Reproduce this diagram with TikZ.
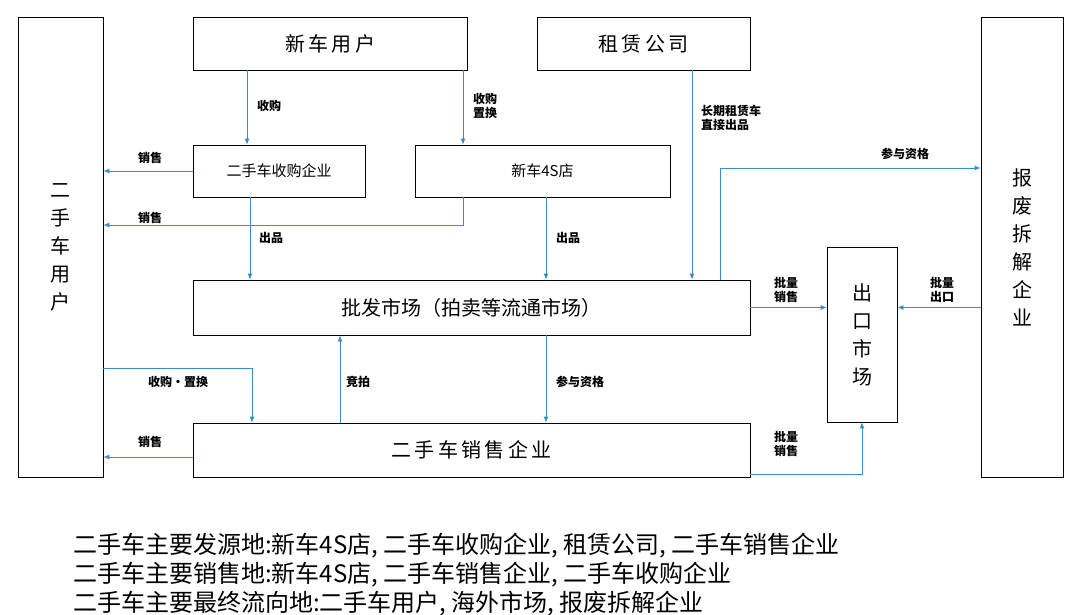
\documentclass[tikz,border=0pt]{standalone}
\usepackage{fontspec}
\setmainfont{Noto Sans CJK SC}
\usetikzlibrary{arrows.meta}
\definecolor{flow}{HTML}{3A8FC0}
\begin{document}
\begin{tikzpicture}[x=1pt,y=-1pt,
    unit/.style ={draw, thick, inner sep=0pt},
    flowline/.style ={draw=flow, thick, -{Latex[length=6pt,width=5pt]}},
    tag/.style ={font=\bfseries\fontsize{12}{14}\selectfont, align=left, inner sep=1pt}]
   \useasboundingbox (0,0) rectangle (1080,615);
   \node[unit, minimum width=85, minimum height=460, align=center, font=\fontsize{20}{28}\selectfont] (used) at (60.5,247) {二\\手\\车\\用\\户};
   \node[unit, minimum width=274, minimum height=53, font=\fontsize{20}{24}\selectfont] (newuser) at (330,43.5) {新\,车\,用\,户};
   \node[unit, minimum width=213, minimum height=53, font=\fontsize{20}{24}\selectfont] (lease) at (643.5,43.5) {租\,赁\,公\,司};
   \node[unit, minimum width=82, minimum height=460, align=center, font=\fontsize{20}{28}\selectfont] (scrap) at (1022,247) {报\\废\\拆\\解\\企\\业};
   \node[unit, minimum width=172, minimum height=52, font=\fontsize{15}{18}\selectfont] (buyer) at (279,171) {二手车收购企业};
   \node[unit, minimum width=255, minimum height=52, font=\fontsize{15}{18}\selectfont] (dealer) at (542.5,171) {新车4S店};
   \node[unit, minimum width=557, minimum height=55, font=\fontsize{20}{24}\selectfont] (market) at (471.5,307.5) {批发市场（拍卖等流通市场）};
   \node[unit, minimum width=70, minimum height=175, align=center, font=\fontsize{20}{28}\selectfont] (export) at (862,334.5) {出\\口\\市\\场};
   \node[unit, minimum width=557, minimum height=54, font=\fontsize{20}{24}\selectfont] (seller) at (471.5,450) {二\,手\,车\,销\,售\,企\,业};
   \coordinate (q1) at (720,168);
   \coordinate (q2) at (463,225);
   \coordinate (q3) at (252,368);
   \coordinate (q4) at (862,474);
   \draw[flowline] (newuser.south -| 247,0) -- (buyer.north -| 247,0);
   \draw[flowline] (newuser.south -| 463,0) -- (dealer.north -| 463,0);
   \draw[flowline] (lease.south -| 692,0) -- (market.north -| 692,0);
   \draw[flowline] (market.north -| q1) -- (q1) -- (q1 -| scrap.west);
   \draw[flowline] (buyer.west) -- (buyer.west -| used.east);
   \draw[flowline] (dealer.south -| q2) -- (q2) -- (q2 -| used.east);
   \draw[flowline] (buyer.south -| 250,0) -- (market.north -| 250,0);
   \draw[flowline] (dealer.south -| 546,0) -- (market.north -| 546,0);
   \draw[flowline] (market.east) -- (market.east -| export.west);
   \draw[flowline] (scrap.west |- market.east) -- (export.east |- market.east);
   \draw[flowline] (used.east |- q3) -- (q3) -- (seller.north -| q3);
   \draw[flowline] (seller.north -| 340,0) -- (market.south -| 340,0);
   \draw[flowline] (market.south -| 546,0) -- (seller.north -| 546,0);
   \draw[flowline] (seller.west |- 0,457) -- (used.east |- 0,457);
   \draw[flowline] (seller.east |- q4) -- (q4) -- (export.south);
   \node[tag, anchor=west] (t1) at (256,106) {收购};
   \node[tag, anchor=west] (t2) at (472,106) {收购\\置换};
   \node[tag, anchor=west] (t3) at (700,118) {长期租赁车\\直接出品};
   \node[tag] (t4) at (905,154) {参与资格};
   \node[tag] (t5) at (150,158) {销售};
   \node[tag] (t6) at (150,218) {销售};
   \node[tag, anchor=west] (t7) at (258,238) {出品};
   \node[tag, anchor=west] (t8) at (555,238) {出品};
   \node[tag] (t9) at (786,290) {批量\\销售};
   \node[tag] (t10) at (942,290) {批量\\出口};
   \node[tag] (t11) at (178,382) {收购·置换};
   \node[tag] (t12) at (358,382) {竞拍};
   \node[tag, anchor=west] (t13) at (555,382) {参与资格};
   \node[tag] (t14) at (150,442) {销售};
   \node[tag] (t15) at (786,444) {批量\\销售};
   \node[anchor=north west, align=left, inner sep=0pt, font=\fontsize{24}{29}\selectfont] (note) at (73,533)
     {二手车主要发源地:新车4S店, 二手车收购企业, 租赁公司, 二手车销售企业\\
      二手车主要销售地:新车4S店, 二手车销售企业, 二手车收购企业\\
      二手车主要最终流向地:二手车用户, 海外市场, 报废拆解企业};
 \end{tikzpicture}
\end{document}
